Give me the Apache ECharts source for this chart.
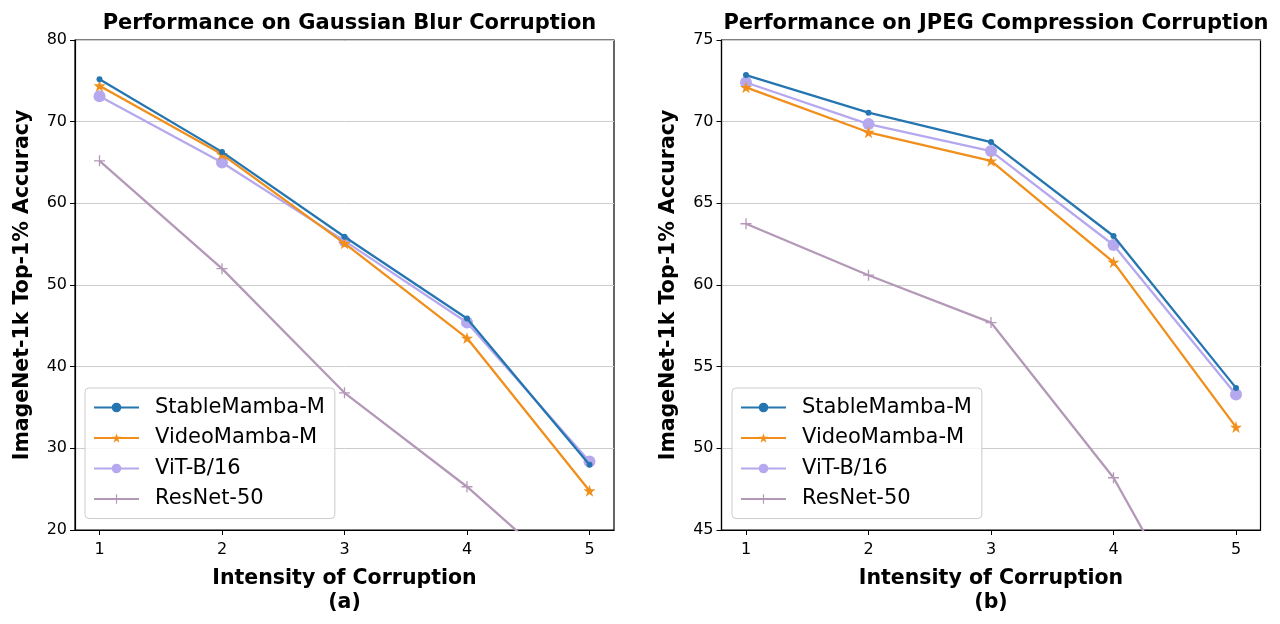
<!DOCTYPE html>
<html><head><meta charset="utf-8">
<script src="https://cdn.jsdelivr.net/npm/echarts@6/dist/echarts.min.js"></script>
<style>html,body{margin:0;padding:0;background:#fff}#c{width:1280px;height:624px}</style>
</head><body><div id="c"></div>
<script>
const intensities = [1, 2, 3, 4, 5];
const seriesNames = ['StableMamba-M', 'VideoMamba-M', 'ViT-B/16', 'ResNet-50'];
// Gaussian Blur
const blurStable = [75.2, 66.3, 55.9, 45.9, 28.0];
const blurVideo  = [74.4, 66.0, 55.1, 43.5, 24.8];
const blurViT    = [73.1, 65.0, 55.4, 45.4, 28.4];
const blurResNet = [65.2, 52.0, 36.8, 25.3, 12.0];
// JPEG Compression
const jpegStable = [72.85, 70.55, 68.75, 63.0, 53.7];
const jpegVideo  = [72.1, 69.35, 67.6, 61.4, 51.3];
const jpegViT    = [72.4, 69.85, 68.2, 62.45, 53.3];
const jpegResNet = [63.75, 60.6, 57.7, 48.2, 34.8];
const blurYTicks = [20, 30, 40, 50, 60, 70, 80];
const jpegYTicks = [45, 50, 55, 60, 65, 70, 75];

const FONT = 'DejaVu Sans';
const colors = ['#2576b0', '#f08f1b', '#b6a8ee', '#b498b8'];
const STAR = 'path://M50,0 L61.2,34.5 L97.6,34.5 L68.2,55.9 L79.4,90.5 L50,69.1 L20.6,90.5 L31.8,55.9 L2.4,34.5 L38.8,34.5 Z';
const PLUS = 'path://M4.4,0 H5.6 V4.4 H10 V5.6 H5.6 V10 H4.4 V5.6 H0 V4.4 H4.4 Z';
const symbols = ['circle', STAR, 'circle', PLUS];
const symSizes = [6, 12, 12, 11];

function pairs(vals) { return intensities.map((x, i) => [x, vals[i]]); }

function mkSeries(idx, sets) {
  return sets.map((vals, i) => ({
    name: seriesNames[i], type: 'line', xAxisIndex: idx, yAxisIndex: idx,
    data: pairs(vals), symbol: symbols[i], symbolSize: symSizes[i],
    showAllSymbol: true, clip: true,
    lineStyle: { color: colors[i], width: 2.3 },
    itemStyle: { color: colors[i], borderWidth: 0 },
    emphasis: { disabled: true }, z: 10 - i
  }));
}

const grids = [
  { left: 75, top: 40, width: 539, height: 490 },
  { left: 721.5, top: 40, width: 539, height: 490 }
];

function xAxis(idx, label) {
  return {
    type: 'value', gridIndex: idx, min: 0.8, max: 5.2,
    axisLine: { show: true, onZero: false, lineStyle: { color: '#000', width: 1.2 } },
    axisTick: { show: true, customValues: intensities, length: 5, inside: false, lineStyle: { color: '#000', width: 1 } },
    axisLabel: { customValues: intensities, color: '#000', fontFamily: FONT, fontSize: 16, margin: 12 },
    splitLine: { show: false },
    name: 'Intensity of Corruption\n' + label, nameLocation: 'middle', nameGap: 37,
    nameTextStyle: { fontFamily: FONT, fontWeight: 'bold', fontSize: 20.5, color: '#000', lineHeight: 24 }
  };
}
function yAxis(idx, ticks) {
  return {
    type: 'value', gridIndex: idx, min: ticks[0], max: ticks[ticks.length - 1], interval: ticks[1] - ticks[0],
    axisLine: { show: true, lineStyle: { color: '#000', width: 1.2 } },
    axisTick: { show: true, length: 5, inside: false, lineStyle: { color: '#000', width: 1 } },
    axisLabel: { color: '#000', fontFamily: FONT, fontSize: 16, margin: 8 },
    splitLine: { show: true, lineStyle: { color: '#cccccc', width: 1 } },
    name: 'ImageNet-1k Top-1% Accuracy', nameLocation: 'middle', nameGap: 42,
    nameTextStyle: { fontFamily: FONT, fontWeight: 'bold', fontSize: 20.5, color: '#000' }
  };
}
function legend(left) {
  return {
    left: left, top: 388, orient: 'vertical', data: seriesNames,
    itemWidth: 45, itemHeight: 12, itemGap: 9.5, padding: [9, 10, 9, 8],
    backgroundColor: 'rgba(255,255,255,0.85)', borderColor: '#cccccc', borderWidth: 1, borderRadius: 4,
    textStyle: { fontFamily: FONT, fontSize: 21, color: '#000', padding: [0, 0, 0, 11] },
    selectedMode: false
  };
}

const chart = echarts.init(document.getElementById('c'), null, { renderer: 'canvas' });
chart.setOption({
  animation: false,
  backgroundColor: '#fff',
  title: [
    { text: 'Performance on Gaussian Blur Corruption', left: 344.5, top: 8, textAlign: 'center',
      textStyle: { fontFamily: FONT, fontWeight: 'bold', fontSize: 21, color: '#000' } },
    { text: 'Performance on JPEG Compression Corruption', left: 991, top: 8, textAlign: 'center',
      textStyle: { fontFamily: FONT, fontWeight: 'bold', fontSize: 21, color: '#000' } }
  ],
  grid: grids.map(g => Object.assign({ show: true, borderColor: '#000', borderWidth: 1.2, backgroundColor: 'transparent', containLabel: false }, g)),
  xAxis: [xAxis(0, '(a)'), xAxis(1, '(b)')],
  yAxis: [yAxis(0, blurYTicks), yAxis(1, jpegYTicks)],
  legend: [legend(85), legend(732)],
  series: mkSeries(0, [blurStable, blurVideo, blurViT, blurResNet])
    .concat(mkSeries(1, [jpegStable, jpegVideo, jpegViT, jpegResNet]))
});
</script></body></html>
